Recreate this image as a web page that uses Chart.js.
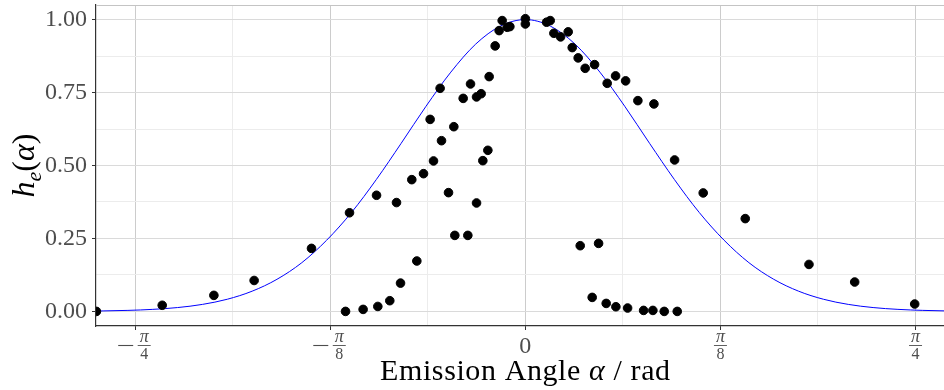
<!DOCTYPE html>
<html>
<head>
<meta charset="utf-8">
<script src="https://cdn.jsdelivr.net/npm/chart.js@4"></script>
<style>
  body { margin: 0; background: #fff; }
  #wrap { width: 944px; height: 390px; }
</style>
</head>
<body>
<div id="wrap"><canvas id="chart"></canvas></div>
<script>
// measured points: emission angle (rad) and normalised h_e
const alphaObs = [-0.8635, -0.731, -0.627, -0.546, -0.4305, -0.354, -0.2996, -0.2594, -0.2286, -0.205,
  -0.1849, -0.1688, -0.1917, -0.1716, -0.144, -0.1547, -0.1252, -0.1104, -0.0983, -0.089,
  -0.0729, -0.0856, -0.0755, -0.0983, -0.142, -0.1158, -0.2185, -0.2513, -0.2729, -0.297,
  -0.3266, -0.362, -0.0608, -0.0528, -0.0467, -0.0366, -0.0312, 0.0, 0.0, 0.0427,
  0.050, 0.0574, 0.0709, 0.0862, 0.0943, 0.1063, 0.1204, 0.1393, 0.1647, 0.1816,
  0.2018, 0.2265, 0.2588, 0.3004, 0.358, 0.4426, 0.5709, 0.6629, 0.7837, 0.1104,
  0.1474, 0.1345, 0.1627, 0.1822, 0.2058, 0.238, 0.2567, 0.2795, 0.3057];
const hObs = [0.000, 0.021, 0.055, 0.106, 0.216, 0.338, 0.398, 0.373, 0.4515, 0.472,
  0.5156, 0.585, 0.658, 0.7645, 0.633, 0.407, 0.730, 0.7795, 0.735, 0.746,
  0.8046, 0.5166, 0.552, 0.3716, 0.2605, 0.2605, 0.1727, 0.097, 0.0367, 0.017,
  0.0069, 0.000, 0.9098, 0.9623, 0.9966, 0.9736, 0.976, 1.003, 0.985, 0.991,
  0.9966, 0.953, 0.9407, 0.958, 0.904, 0.8687, 0.833, 0.8457, 0.7816, 0.807,
  0.790, 0.7223, 0.711, 0.519, 0.406, 0.318, 0.161, 0.1007, 0.0253, 0.2252,
  0.2331, 0.048, 0.0274, 0.016, 0.0116, 0.0034, 0.0034, 0.000, 0.000];

// fitted curve
const alphaFit = [-0.865, -0.85, -0.80, -0.75, -0.70, -0.65, -0.60, -0.55, -0.50, -0.45, -0.40, -0.35,
  -0.30, -0.25, -0.20, -0.15, -0.10, -0.05, 0.0, 0.05, 0.10, 0.15, 0.20, 0.25, 0.30, 0.35,
  0.40, 0.45, 0.50, 0.55, 0.60, 0.65, 0.70, 0.75, 0.80, 0.845];
const hFit = [0.0014, 0.0017, 0.0035, 0.0070, 0.0132, 0.024, 0.0417, 0.0693, 0.110, 0.167, 0.244, 0.339,
  0.452, 0.576, 0.703, 0.820, 0.916, 0.978, 1.000, 0.978, 0.916, 0.820, 0.703, 0.576, 0.452, 0.339,
  0.244, 0.167, 0.110, 0.0693, 0.0417, 0.024, 0.0132, 0.0070, 0.0035, 0.0018];

// axis ticks (x in multiples of pi/16)
const xTickSteps = [-4, -3, -2, -1, 0, 1, 2, 3, 4];
const xTickLabels = ['−π/4', '', '−π/8', '', '0', '', 'π/8', '', 'π/4'];
const yTicks = [0, 0.125, 0.25, 0.375, 0.5, 0.625, 0.75, 0.875, 1];
const yTickLabels = ['0.00', '', '0.25', '', '0.50', '', '0.75', '', '1.00'];

const serif = "'Liberation Serif', 'DejaVu Serif', serif";
const tickGrey = '#4d4d4d';

const xMajor = v => Math.abs(Math.round(v / (Math.PI / 16))) % 2 === 0;
const yMajor = v => yTickLabels[yTicks.indexOf(v)] !== '';

// drop the label overhang chart.js adds around the plot area
const noOverhang = scale => {
  scale.paddingTop = 0;
  scale.paddingBottom = 0;
  scale.paddingLeft = 0;
  scale.paddingRight = 0;
};

const axisText = {
  id: 'axisText',
  afterDraw(chart) {
    const { ctx, chartArea, scales } = chart;
    const x = scales.x;
    ctx.save();

    // panel border on top
    ctx.strokeStyle = '#c4c4c4';
    ctx.lineWidth = 1;
    ctx.beginPath();
    ctx.moveTo(chartArea.left, chartArea.top + 0.5);
    ctx.lineTo(chartArea.right, chartArea.top + 0.5);
    ctx.stroke();

    // x tick labels as fractions of pi
    ctx.fillStyle = tickGrey;
    ctx.strokeStyle = tickGrey;
    ctx.textAlign = 'center';
    ctx.textBaseline = 'alphabetic';
    xTickSteps.forEach((k, i) => {
      const lab = xTickLabels[i];
      if (!lab) return;
      const px = x.getPixelForValue(k * Math.PI / 16);
      if (lab === '0') {
        ctx.font = '24px ' + serif;
        ctx.fillText('0', px, 353);
        return;
      }
      const neg = lab.startsWith('−');
      const den = lab.split('/')[1];
      const cx = neg ? px + 9 : px;
      ctx.font = 'italic 18px ' + serif;
      ctx.fillText('π', cx, 342);
      ctx.font = '16px ' + serif;
      ctx.fillText(den, cx, 359);
      ctx.lineWidth = 0.9;
      ctx.beginPath();
      ctx.moveTo(cx - 6.5, 345.5);
      ctx.lineTo(cx + 6.5, 345.5);
      ctx.stroke();
      if (neg) {
        ctx.lineWidth = 1.1;
        ctx.beginPath();
        ctx.moveTo(px - 17, 345.5);
        ctx.lineTo(px - 2, 345.5);
        ctx.stroke();
      }
    });

    // x axis title
    ctx.fillStyle = '#000';
    ctx.letterSpacing = '0.6px';
    const parts = [['Emission Angle ', ''], ['α', 'italic '], [' / rad', '']];
    const tsize = 30;
    let total = 0;
    parts.forEach(p => { ctx.font = p[1] + tsize + 'px ' + serif; total += ctx.measureText(p[0]).width; });
    let tx = x.getPixelForValue(0) - total / 2;
    ctx.textAlign = 'left';
    parts.forEach(p => {
      ctx.font = p[1] + tsize + 'px ' + serif;
      ctx.fillText(p[0], tx, 380);
      tx += ctx.measureText(p[0]).width;
    });
    ctx.letterSpacing = '0px';

    // y axis title h_e(alpha)
    const ySegs = [['h', 'italic ', 32, 0], ['e', 'italic ', 22, 7], ['(', '', 32, 0], ['α', 'italic ', 32, 0], [')', '', 32, 0]];
    let w = 0;
    ySegs.forEach(s => { ctx.font = s[1] + s[2] + 'px ' + serif; w += ctx.measureText(s[0]).width; });
    ctx.translate(34, (chartArea.top + chartArea.bottom) / 2);
    ctx.rotate(-Math.PI / 2);
    let sx = -w / 2;
    ySegs.forEach(s => {
      ctx.font = s[1] + s[2] + 'px ' + serif;
      ctx.fillText(s[0], sx, s[3]);
      sx += ctx.measureText(s[0]).width;
    });
    ctx.restore();
  }
};

const ctx = document.getElementById('chart').getContext('2d');

const chart = new Chart(ctx, {
  type: 'scatter',
  data: {
    datasets: [{
      label: 'measured',
      data: alphaObs.map((a, i) => ({ x: a, y: hObs[i] })),
      backgroundColor: '#000',
      borderColor: '#000',
      pointRadius: 4.3,
      pointHoverRadius: 4.3,
      order: 0
    }, {
      label: 'fit',
      data: alphaFit.map((a, i) => ({ x: a, y: hFit[i] })),
      showLine: true,
      borderColor: '#0000ff',
      borderWidth: 1,
      pointRadius: 0,
      cubicInterpolationMode: 'monotone',
      order: 1
    }]
  },
  options: {
    responsive: true,
    maintainAspectRatio: false,
    animation: false,
    layout: { autoPadding: false, padding: { top: 5, right: 0, left: 0, bottom: 0 } },
    plugins: {
      legend: { display: false },
      tooltip: { enabled: false }
    },
    scales: {
      x: {
        type: 'linear',
        min: -0.8643,
        max: 0.8427,
        afterBuildTicks: scale => {
          scale.ticks = xTickSteps.map(k => ({ value: k * Math.PI / 16 }));
        },
        afterFit: scale => { scale.height = 64; noOverhang(scale); },
        ticks: {
          autoSkip: false,
          callback: () => ''
        },
        grid: {
          color: c => xMajor(c.tick.value) ? '#cccccc' : '#ececec',
          tickColor: c => xMajor(c.tick.value) ? '#333333' : 'rgba(0,0,0,0)',
          tickLength: 4,
          lineWidth: 1
        },
        border: { display: true, color: '#333333', width: 1.2 }
      },
      y: {
        min: -0.05,
        max: 1.05,
        afterBuildTicks: scale => {
          scale.ticks = yTicks.map(v => ({ value: v }));
        },
        afterFit: scale => { scale.width = 96; noOverhang(scale); },
        ticks: {
          autoSkip: false,
          padding: 5,
          color: tickGrey,
          font: { family: serif, size: 24 },
          callback: v => yTickLabels[yTicks.indexOf(v)]
        },
        grid: {
          color: c => yMajor(c.tick.value) ? '#dadada' : '#ececec',
          tickColor: c => yMajor(c.tick.value) ? '#333333' : 'rgba(0,0,0,0)',
          tickLength: 4,
          lineWidth: 1
        },
        border: { display: true, color: '#333333', width: 1.2 }
      }
    }
  },
  plugins: [axisText]
});
</script>
</body>
</html>
